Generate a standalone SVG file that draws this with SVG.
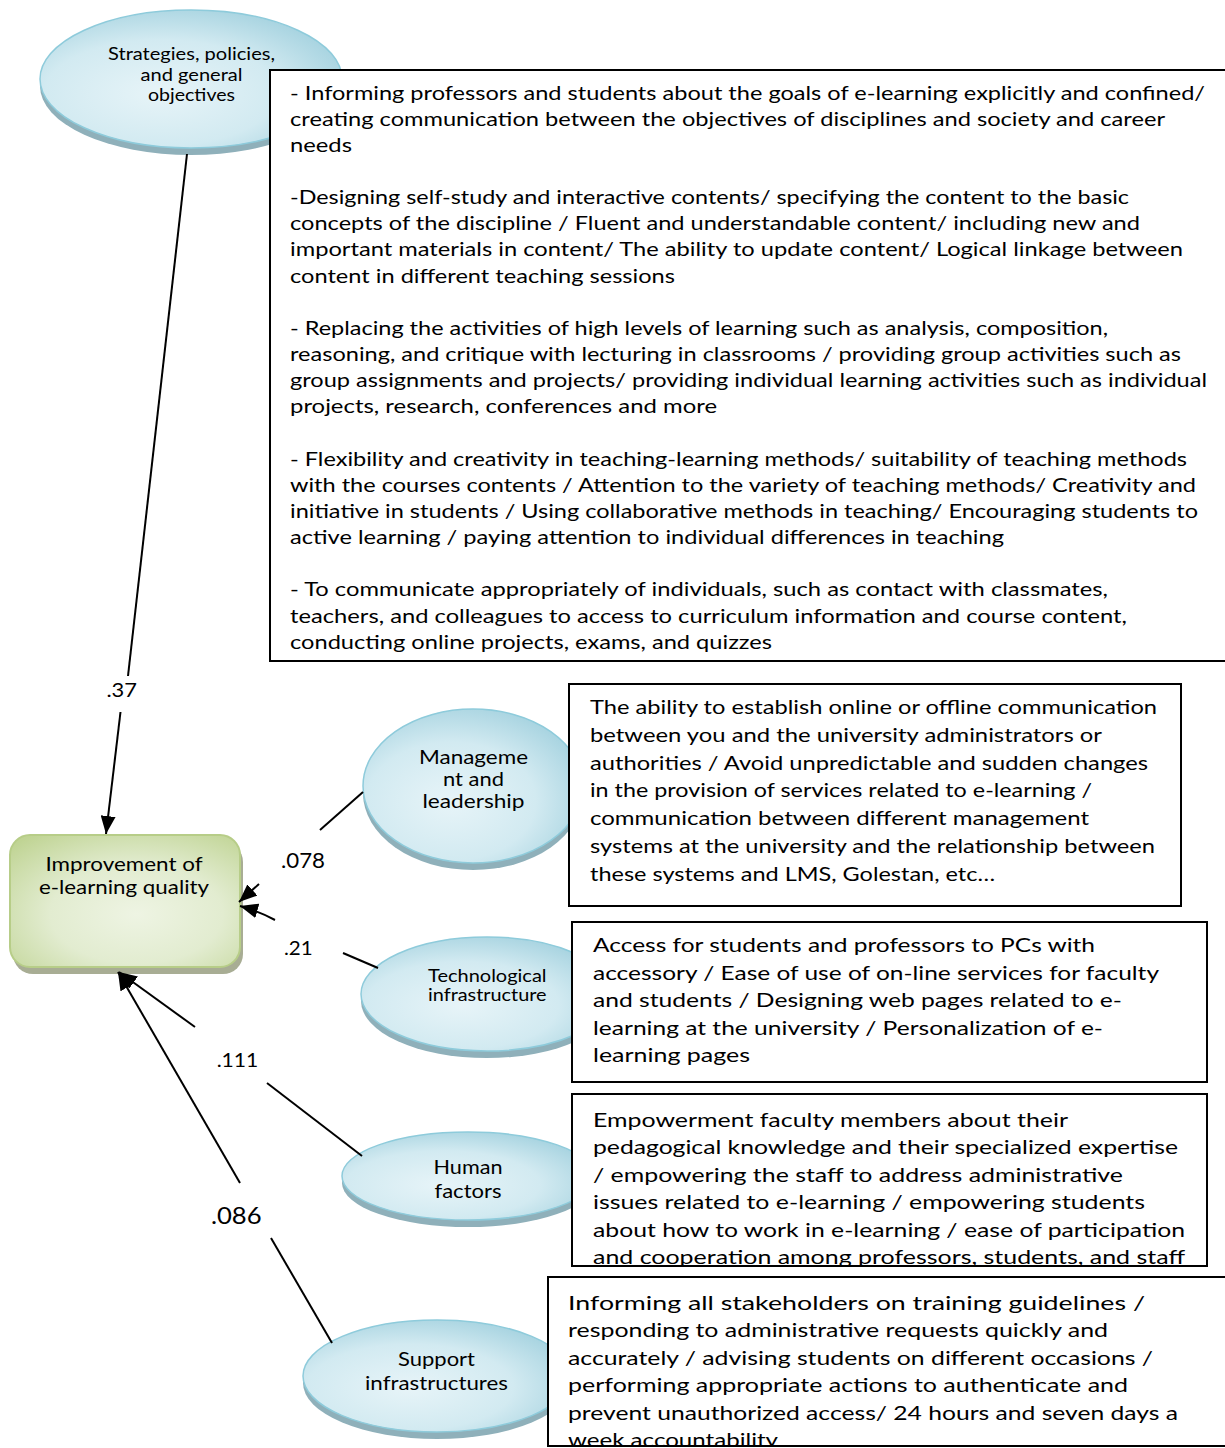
<svg xmlns="http://www.w3.org/2000/svg" width="1225" height="1448" viewBox="0 0 1225 1448">
<defs>
<style>
.bt{font-family:Lato,"Liberation Sans",sans-serif;font-size:19px;fill:#000}
.mt{font-family:Lato,"Liberation Sans",sans-serif;font-size:20px;fill:#000}
.lb{font-family:Lato,"Liberation Sans",sans-serif;fill:#000;text-anchor:middle}
.box{fill:#fff;stroke:#000;stroke-width:2}
.ell{fill:url(#eg);stroke:#8ecbdb;stroke-width:1.5}
.esh{fill:#8fb0ba}
.con{stroke:#000;stroke-width:2;fill:none}
.arr{marker-end:url(#ah)}
</style>
<radialGradient id="eg" cx="0.4" cy="0.6" r="0.7">
<stop offset="0" stop-color="#e7f4f8"/>
<stop offset="0.55" stop-color="#d2eaf1"/>
<stop offset="1" stop-color="#9fcfdd"/>
</radialGradient>
<radialGradient id="gg" cx="0.55" cy="0.6" r="0.75">
<stop offset="0" stop-color="#eef4e3"/>
<stop offset="0.5" stop-color="#e2ecd0"/>
<stop offset="1" stop-color="#c0d494"/>
</radialGradient>
<marker id="ah" markerUnits="userSpaceOnUse" markerWidth="19" markerHeight="15" refX="18" refY="7.5" orient="auto">
<path d="M0,0 L18,7.5 L0,15 z" fill="#000"/>
</marker>
<clipPath id="clipHuman"><rect x="573" y="1095" width="633" height="170"/></clipPath>
<clipPath id="clipSupport"><rect x="549" y="1279" width="676" height="166"/></clipPath>
</defs>
<rect width="1225" height="1448" fill="#fff"/>

<g id="node-strategies">
<ellipse class="esh" cx="191" cy="86" rx="151" ry="69"/>
<ellipse class="ell" cx="191" cy="79" rx="151" ry="69"/>
<text class="lb" font-size="17" x="191.5" y="60" textLength="167" lengthAdjust="spacingAndGlyphs">Strategies, policies,</text>
<text class="lb" font-size="17" x="191.5" y="80.5" textLength="102" lengthAdjust="spacingAndGlyphs">and general</text>
<text class="lb" font-size="17" x="191.5" y="101" textLength="87" lengthAdjust="spacingAndGlyphs">objectives</text>
</g>

<g id="node-management">
<ellipse class="esh" cx="473" cy="793" rx="110" ry="77"/>
<ellipse class="ell" cx="473" cy="786" rx="110" ry="77"/>
<text class="lb" font-size="19" x="473.5" y="764" textLength="109" lengthAdjust="spacingAndGlyphs">Manageme</text>
<text class="lb" font-size="19" x="473.5" y="786" textLength="61" lengthAdjust="spacingAndGlyphs">nt and</text>
<text class="lb" font-size="19" x="473.5" y="808" textLength="102" lengthAdjust="spacingAndGlyphs">leadership</text>
</g>

<g id="node-technological">
<ellipse class="esh" cx="487" cy="1001" rx="126" ry="57"/>
<ellipse class="ell" cx="487" cy="994" rx="126" ry="57"/>
<text class="lb" font-size="17" x="487.3" y="981.5" textLength="118.5" lengthAdjust="spacingAndGlyphs">Technological</text>
<text class="lb" font-size="17" x="487.3" y="1001" textLength="118.5" lengthAdjust="spacingAndGlyphs">infrastructure</text>
</g>

<g id="node-human">
<ellipse class="esh" cx="468" cy="1183" rx="126" ry="44"/>
<ellipse class="ell" cx="468" cy="1176" rx="126" ry="44"/>
<text class="lb" font-size="19" x="468" y="1174" textLength="69" lengthAdjust="spacingAndGlyphs">Human</text>
<text class="lb" font-size="19" x="468" y="1197.5" textLength="67" lengthAdjust="spacingAndGlyphs">factors</text>
</g>

<g id="node-support">
<ellipse class="esh" cx="437" cy="1383" rx="134" ry="56"/>
<ellipse class="ell" cx="437" cy="1376" rx="134" ry="56"/>
<text class="lb" font-size="19" x="436.5" y="1366" textLength="77" lengthAdjust="spacingAndGlyphs">Support</text>
<text class="lb" font-size="19" x="436.5" y="1389.5" textLength="143" lengthAdjust="spacingAndGlyphs">infrastructures</text>
</g>

<g id="node-improvement">
<rect x="13" y="842" width="230" height="132" rx="20" fill="#a8ad94"/>
<rect x="10" y="835" width="230" height="132" rx="20" fill="url(#gg)" stroke="#b7cd88" stroke-width="2"/>
<text class="lb" font-size="20" x="124" y="870.5" textLength="157" lengthAdjust="spacingAndGlyphs">Improvement of</text>
<text class="lb" font-size="20" x="124" y="893.5" textLength="170" lengthAdjust="spacingAndGlyphs">e-learning quality</text>
</g>

<g id="connectors">
<line class="con" x1="187" y1="154" x2="128" y2="676"/>
<line class="con arr" x1="120.5" y1="712" x2="106" y2="834"/>
<text class="lb" font-size="20" x="121.7" y="696.5" textLength="30.6" lengthAdjust="spacingAndGlyphs">.37</text>

<line class="con" x1="363" y1="792" x2="320" y2="830"/>
<line class="con arr" x1="259" y1="884" x2="239" y2="902"/>
<text class="lb" font-size="21" x="303" y="868.3" textLength="44" lengthAdjust="spacingAndGlyphs">.078</text>

<line class="con" x1="378" y1="968" x2="343" y2="953"/>
<path class="con arr" d="M275,920 Q258,911 240,906"/>
<text class="lb" font-size="18.5" x="298.3" y="955" textLength="28.7" lengthAdjust="spacingAndGlyphs">.21</text>

<line class="con" x1="362" y1="1156" x2="267" y2="1083"/>
<line class="con arr" x1="195" y1="1027" x2="119" y2="972"/>
<text class="lb" font-size="19.5" x="237.5" y="1066.7" textLength="41.7" lengthAdjust="spacingAndGlyphs">.111</text>

<line class="con" x1="332" y1="1343" x2="271" y2="1238"/>
<line class="con arr" x1="240" y1="1183" x2="118" y2="972"/>
<text class="lb" font-size="24" x="236.3" y="1224" textLength="50.7" lengthAdjust="spacingAndGlyphs">.086</text>
</g>

<g id="box-strategies">
<rect class="box" x="270" y="70" width="970" height="591"/>
<text class="bt" x="290" y="99.5" textLength="915" lengthAdjust="spacingAndGlyphs">- Informing professors and students about the goals of e-learning explicitly and confined/</text>
<text class="bt" x="290" y="125.65" textLength="875" lengthAdjust="spacingAndGlyphs">creating communication between the objectives of disciplines and society and career</text>
<text class="bt" x="290" y="151.8" textLength="62" lengthAdjust="spacingAndGlyphs">needs</text>
<text class="bt" x="290" y="204.1" textLength="839" lengthAdjust="spacingAndGlyphs">-Designing self-study and interactive contents/ specifying the content to the basic</text>
<text class="bt" x="290" y="230.25" textLength="850" lengthAdjust="spacingAndGlyphs">concepts of the discipline / Fluent and understandable content/ including new and</text>
<text class="bt" x="290" y="256.4" textLength="893" lengthAdjust="spacingAndGlyphs">important materials in content/ The ability to update content/ Logical linkage between</text>
<text class="bt" x="290" y="282.55" textLength="385" lengthAdjust="spacingAndGlyphs">content in different teaching sessions</text>
<text class="bt" x="290" y="334.85" textLength="818" lengthAdjust="spacingAndGlyphs">- Replacing the activities of high levels of learning such as analysis, composition,</text>
<text class="bt" x="290" y="361" textLength="891" lengthAdjust="spacingAndGlyphs">reasoning, and critique with lecturing in classrooms / providing group activities such as</text>
<text class="bt" x="290" y="387.15" textLength="917" lengthAdjust="spacingAndGlyphs">group assignments and projects/ providing individual learning activities such as individual</text>
<text class="bt" x="290" y="413.3" textLength="427" lengthAdjust="spacingAndGlyphs">projects, research, conferences and more</text>
<text class="bt" x="290" y="465.6" textLength="897" lengthAdjust="spacingAndGlyphs">- Flexibility and creativity in teaching-learning methods/ suitability of teaching methods</text>
<text class="bt" x="290" y="491.75" textLength="906" lengthAdjust="spacingAndGlyphs">with the courses contents / Attention to the variety of teaching methods/ Creativity and</text>
<text class="bt" x="290" y="517.9" textLength="908" lengthAdjust="spacingAndGlyphs">initiative in students / Using collaborative methods in teaching/ Encouraging students to</text>
<text class="bt" x="290" y="544.05" textLength="714" lengthAdjust="spacingAndGlyphs">active learning / paying attention to individual differences in teaching</text>
<text class="bt" x="290" y="596.35" textLength="818" lengthAdjust="spacingAndGlyphs">- To communicate appropriately of individuals, such as contact with classmates,</text>
<text class="bt" x="290" y="622.5" textLength="837" lengthAdjust="spacingAndGlyphs">teachers, and colleagues to access to curriculum information and course content,</text>
<text class="bt" x="290" y="648.65" textLength="482" lengthAdjust="spacingAndGlyphs">conducting online projects, exams, and quizzes</text>
</g>

<g id="box-management">
<rect class="box" x="569" y="684" width="612" height="222"/>
<text class="mt" x="590" y="714" textLength="567" lengthAdjust="spacingAndGlyphs">The ability to establish online or offline communication</text>
<text class="mt" x="590" y="741.75" textLength="512" lengthAdjust="spacingAndGlyphs">between you and the university administrators or</text>
<text class="mt" x="590" y="769.5" textLength="558" lengthAdjust="spacingAndGlyphs">authorities / Avoid unpredictable and sudden changes</text>
<text class="mt" x="590" y="797.25" textLength="502" lengthAdjust="spacingAndGlyphs">in the provision of services related to e-learning /</text>
<text class="mt" x="590" y="825" textLength="499" lengthAdjust="spacingAndGlyphs">communication between different management</text>
<text class="mt" x="590" y="852.75" textLength="565" lengthAdjust="spacingAndGlyphs">systems at the university and the relationship between</text>
<text class="mt" x="590" y="880.5" textLength="405" lengthAdjust="spacingAndGlyphs">these systems and LMS, Golestan, etc…</text>
</g>

<g id="box-technological">
<rect class="box" x="572" y="922" width="635" height="160"/>
<text class="mt" x="593" y="952" textLength="502" lengthAdjust="spacingAndGlyphs">Access for students and professors to PCs with</text>
<text class="mt" x="593" y="979.6" textLength="566" lengthAdjust="spacingAndGlyphs">accessory / Ease of use of on-line services for faculty</text>
<text class="mt" x="593" y="1007.2" textLength="529" lengthAdjust="spacingAndGlyphs">and students / Designing web pages related to e-</text>
<text class="mt" x="593" y="1034.8" textLength="510" lengthAdjust="spacingAndGlyphs">learning at the university / Personalization of e-</text>
<text class="mt" x="593" y="1062.4" textLength="157" lengthAdjust="spacingAndGlyphs">learning pages</text>
</g>

<g id="box-human">
<rect class="box" x="572" y="1094" width="635" height="172"/>
<g clip-path="url(#clipHuman)">
<text class="mt" x="593" y="1126.5" textLength="475" lengthAdjust="spacingAndGlyphs">Empowerment faculty members about their</text>
<text class="mt" x="593" y="1154" textLength="585" lengthAdjust="spacingAndGlyphs">pedagogical knowledge and their specialized expertise</text>
<text class="mt" x="593" y="1181.5" textLength="530" lengthAdjust="spacingAndGlyphs">/ empowering the staff to address administrative</text>
<text class="mt" x="593" y="1209" textLength="552" lengthAdjust="spacingAndGlyphs">issues related to e-learning / empowering students</text>
<text class="mt" x="593" y="1236.5" textLength="592" lengthAdjust="spacingAndGlyphs">about how to work in e-learning / ease of participation</text>
<text class="mt" x="593" y="1264" textLength="592" lengthAdjust="spacingAndGlyphs">and cooperation among professors, students, and staff</text>
</g>
<rect x="572" y="1094" width="635" height="172" fill="none" stroke="#000" stroke-width="2"/>
</g>

<g id="box-support">
<rect class="box" x="548" y="1277" width="690" height="169"/>
<g clip-path="url(#clipSupport)">
<text class="mt" x="568" y="1310" textLength="577" lengthAdjust="spacingAndGlyphs">Informing all stakeholders on training guidelines /</text>
<text class="mt" x="568" y="1337.4" textLength="540" lengthAdjust="spacingAndGlyphs">responding to administrative requests quickly and</text>
<text class="mt" x="568" y="1364.8" textLength="585" lengthAdjust="spacingAndGlyphs">accurately / advising students on different occasions /</text>
<text class="mt" x="568" y="1392.2" textLength="560" lengthAdjust="spacingAndGlyphs">performing appropriate actions to authenticate and</text>
<text class="mt" x="568" y="1419.6" textLength="610" lengthAdjust="spacingAndGlyphs">prevent unauthorized access/ 24 hours and seven days a</text>
<text class="mt" x="568" y="1447" textLength="210" lengthAdjust="spacingAndGlyphs">week accountability</text>
</g>
<rect x="548" y="1277" width="690" height="169" fill="none" stroke="#000" stroke-width="2"/>
</g>
</svg>
